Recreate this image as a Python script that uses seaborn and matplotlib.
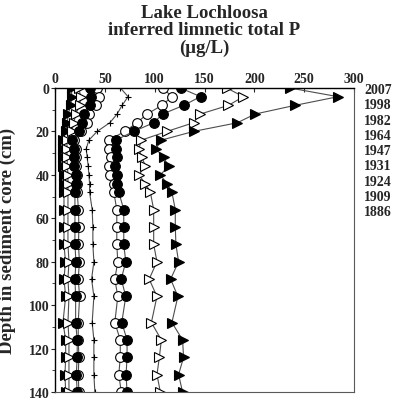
import pandas as pd
import numpy as np
import matplotlib
matplotlib.use("Agg")
import matplotlib.pyplot as plt
import seaborn as sns
from matplotlib.ticker import MultipleLocator

# Data
depth = [0, 4, 8, 12, 16, 20, 24, 28, 32, 36, 40, 44, 48, 56, 64, 72, 80, 88, 96, 108, 116, 124, 132, 140]

ft_left = [16.7, 16.7, 15.7, 13.3, 12.3, 10.7, 8, 8, 8, 8, 9, 9, 9, 9, 9, 9, 10.5, 9, 10.7, 8, 10.7, 10.7, 10, 10.7]
ot_left = [24, 25.7, 24.7, 20.7, 19, 16.7, 12, 12, 12, 12.5, 13, 13, 13, 13, 13, 13, 14, 13, 14, 13, 14, 14, 14, 14]
fc_left = [34.7, 35.7, 34.7, 29, 27.3, 24, 17.3, 19, 19, 19, 20.7, 20.7, 20, 20, 20, 20, 21, 20, 20.7, 20.7, 22.3, 22.3, 21.3, 22.3]
oc_left = [42.3, 44, 40.7, 34, 32.3, 25.7, 19, 20.7, 20.7, 21.3, 22.3, 22.3, 22.3, 23.5, 24, 23.5, 24.5, 23.3, 24.7, 23.3, 23.3, 24, 23.3, 24]
plus_mid = [65.7, 73.3, 67.3, 62.3, 55, 42.3, 34, 31.3, 32.3, 33.3, 34, 34.7, 34.7, 37.3, 38, 38, 39, 36.7, 39, 37.3, 39, 39, 39, 40]
oc_right = [108, 117.3, 107.3, 92.3, 82.3, 70, 54, 54, 55.7, 54, 55, 59, 59, 62, 62, 62, 63, 60, 63, 60, 65.5, 65.5, 64, 66.5]
fc_right = [126, 146, 129, 108, 99, 79, 61, 61, 62, 60, 62, 62.3, 64, 69, 69, 69, 71, 66.5, 71, 67, 72.3, 72.3, 71.3, 72.3]
ot_right = [172.3, 189, 174, 145.7, 139, 112.3, 86.7, 84, 87.3, 90.7, 84, 90.7, 95.7, 99, 99, 99, 102.3, 94.5, 102.3, 96.7, 106.7, 104.7, 102.3, 105.7]
ft_right = [235.7, 284, 240.7, 200.7, 183, 139, 106.7, 101.3, 109, 114, 105.7, 112.3, 117.3, 120.7, 120.7, 121.3, 124, 116, 123.3, 117.3, 128, 129, 124, 128]

years = ["2007", "1998", "1982", "1964", "1947", "1931", "1924", "1909", "1886"]

series = {
    "ft_left": ft_left, "ot_left": ot_left, "oc_left": oc_left, "fc_left": fc_left,
    "plus_mid": plus_mid,
    "oc_right": oc_right, "fc_right": fc_right, "ot_right": ot_right, "ft_right": ft_right,
}

# marker, face colour, size
styles = {
    "ft_left": (">", "black", 7),
    "ot_left": (">", "white", 7),
    "oc_left": ("o", "white", 7),
    "fc_left": ("o", "black", 7),
    "plus_mid": ("+", "black", 4.5),
    "oc_right": ("o", "white", 7),
    "fc_right": ("o", "black", 7),
    "ot_right": (">", "white", 7),
    "ft_right": (">", "black", 7),
}

df = pd.concat(
    [pd.DataFrame({"depth": depth, "tp": vals, "series": name}) for name, vals in series.items()],
    ignore_index=True,
)

sns.set_style("white")
plt.rcParams["font.family"] = ["Liberation Serif", "DejaVu Serif"]
plt.rcParams["font.weight"] = "bold"

fig = plt.figure(figsize=(3.97, 4.02), dpi=100)
ax = fig.add_axes([55 / 397, 1 - 393 / 402, 299 / 397, 304 / 402])

for name in series:
    marker, face, ms = styles[name]
    sub = df[df["series"] == name]
    sns.lineplot(data=sub, x="tp", y="depth", sort=False, estimator=None, ax=ax,
                 color="0.3", linewidth=0.8, marker=marker, markersize=ms,
                 markerfacecolor=face, markeredgecolor="black", markeredgewidth=0.8,
                 legend=False)

ax.set_xlim(0, 300)
ax.set_ylim(140, 0)
ax.xaxis.set_major_locator(MultipleLocator(50))
ax.yaxis.set_major_locator(MultipleLocator(20))
ax.yaxis.set_minor_locator(MultipleLocator(10))
ax.xaxis.tick_top()
ax.tick_params(axis="x", direction="in", length=3, width=0.8, pad=2, labelsize=10)
ax.tick_params(axis="y", which="major", direction="out", length=3, width=0.8, pad=1, labelsize=10, left=True)
ax.tick_params(axis="y", which="minor", direction="out", length=2, width=0.6, left=True)
for lab in ax.get_xticklabels() + ax.get_yticklabels():
    lab.set_fontweight("bold")

for side in ["left", "top"]:
    ax.spines[side].set_color("black")
    ax.spines[side].set_linewidth(1.0)
for side in ["right", "bottom"]:
    ax.spines[side].set_color("0.35")
    ax.spines[side].set_linewidth(0.8)

ax.set_xlabel("")
ax.set_ylabel("Depth in sediment core (cm)", fontsize=13.5, fontweight="bold")
ax.yaxis.set_label_coords(-0.13, 0.5)

fig.text(204 / 397, 1 - 31 / 402, "Lake Lochloosa\ninferred limnetic total P\n(\u03bcg/L)",
         ha="center", va="center", fontsize=13.5, fontweight="bold", linespacing=1.0)

for i, yr in enumerate(years):
    fig.text(364 / 397, 1 - (90.5 + i * 15.3) / 402, yr, ha="left", va="center",
             fontsize=10, fontweight="bold")

fig.savefig("out.png", dpi=100)
